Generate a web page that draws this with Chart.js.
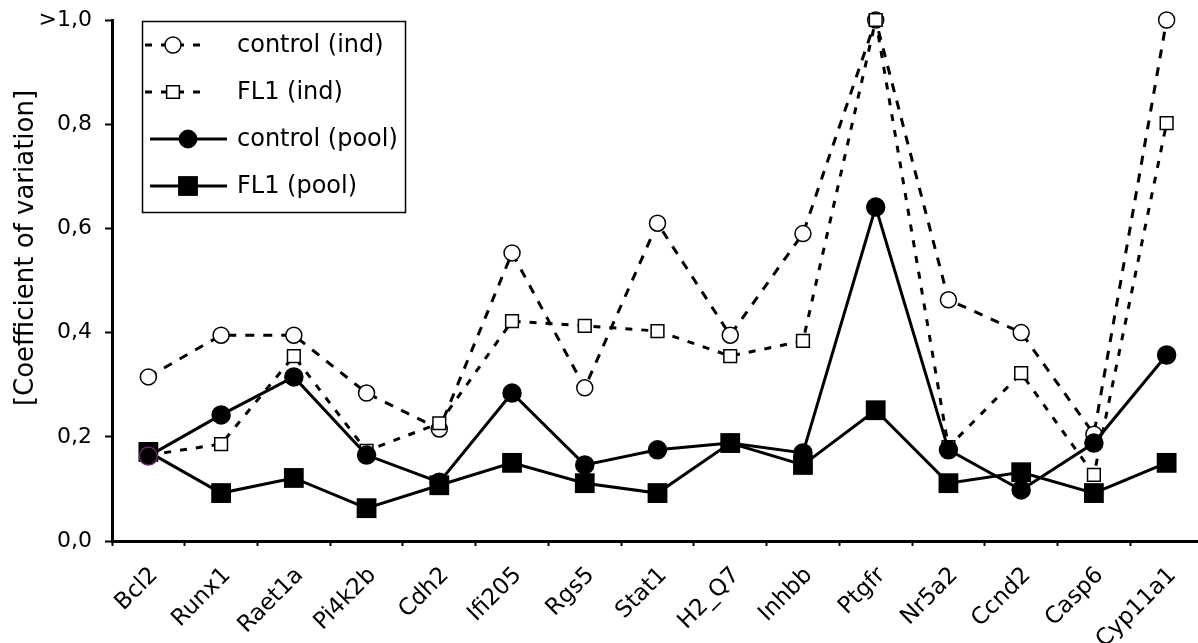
<!DOCTYPE html>
<html><head><meta charset="utf-8">
<script src="https://cdn.jsdelivr.net/npm/chart.js@4"></script>
<style>html,body{margin:0;padding:0;overflow:hidden;background:#fff;width:1198px;height:643px}</style>
</head><body>
<canvas id="c" width="1203" height="643" style="display:block"></canvas>
<script>
const categories = ['Bcl2','Runx1','Raet1a','Pi4k2b','Cdh2','Ifi205','Rgs5','Stat1','H2_Q7','Inhbb','Ptgfr','Nr5a2','Ccnd2','Casp6','Cyp11a1'];
const controlInd  = [0.315,0.395,0.395,0.284,0.215,0.553,0.294,0.610,0.395,0.590,1.000,0.463,0.400,0.205,1.000];
const fl1Ind      = [0.165,0.186,0.355,0.173,0.226,0.422,0.413,0.403,0.355,0.384,1.000,0.180,0.322,0.127,0.802];
const controlPool = [0.163,0.242,0.315,0.165,0.113,0.284,0.146,0.175,0.188,0.169,0.641,0.175,0.098,0.188,0.357];
const fl1Pool     = [0.171,0.092,0.121,0.063,0.107,0.150,0.111,0.092,0.188,0.146,0.251,0.111,0.132,0.092,0.150];
const seriesLabels = ['control (ind)','FL1 (ind)','control (pool)','FL1 (pool)'];
const yTickLabels = ['0,0','0,2','0,4','0,6','0,8','>1,0'];
const yTitle = '[Coefficient of variation]';

const FONT = 'DejaVu Sans';

const legendBox = {
  id: 'legendBox',
  afterDraw(chart) {
    const ctx = chart.ctx;
    ctx.save();
    ctx.fillStyle = '#fff';
    ctx.strokeStyle = '#000';
    ctx.lineWidth = 1.5;
    ctx.fillRect(142, 21, 264, 192);
    ctx.strokeRect(142.5, 21.5, 263, 191);
    const geo = [[145, 207, 173], [145, 207, 173], [150, 227, 188], [150, 227, 188]];
    chart.data.datasets.forEach((ds, i) => {
      const y = 45 + i * 47;
      const [x0, x1, xm] = geo[i];
      ctx.strokeStyle = '#000';
      ctx.lineWidth = ds.borderWidth;
      ctx.setLineDash(ds.borderDash ? [7, 9] : []);
      ctx.beginPath();
      ctx.moveTo(x0, y); ctx.lineTo(x1, y);
      ctx.stroke();
      ctx.setLineDash([]);
      ctx.fillStyle = ds.pointBackgroundColor;
      ctx.strokeStyle = '#000';
      ctx.lineWidth = ds.legendBorder;
      Chart.helpers.drawPoint(ctx, {pointStyle: ds.pointStyle, radius: ds.pointRadius, borderWidth: ds.legendBorder, rotation: 0}, xm, y);
      ctx.fillStyle = '#000';
      ctx.font = '24px "' + FONT + '"';
      ctx.textBaseline = 'middle';
      ctx.textAlign = 'left';
      ctx.fillText(ds.label, 237, y + 1);
    });
    // y title
    ctx.translate(26, 248);
    ctx.rotate(-Math.PI / 2);
    ctx.font = '26px "' + FONT + '"';
    ctx.textAlign = 'center';
    ctx.textBaseline = 'middle';
    ctx.fillStyle = '#000';
    ctx.fillText(yTitle, 0, 0);
    ctx.restore();
  }
};

new Chart(document.getElementById('c'), {
  type: 'line',
  data: {
    labels: categories,
    datasets: [
      {label: seriesLabels[0], data: controlInd, borderColor: '#000', borderWidth: 3, borderDash: [9, 9],
       pointStyle: 'circle', pointRadius: 8, pointBorderWidth: 1.5, legendBorder: 1.5, pointBackgroundColor: '#fff', pointBorderColor: '#000', order: 3},
      {label: seriesLabels[1], data: fl1Ind, borderColor: '#000', borderWidth: 3, borderDash: [7, 9],
       pointStyle: 'rect', pointRadius: 9, pointBorderWidth: 1.5, legendBorder: 1.5, pointBackgroundColor: '#fff', pointBorderColor: '#000', order: 2},
      {label: seriesLabels[2], data: controlPool, borderColor: '#000', borderWidth: 3,
       pointStyle: 'circle', pointRadius: 9, pointBorderWidth: 1.5, legendBorder: 1, pointBackgroundColor: '#000',
       pointBorderColor: controlPool.map((v, i) => i === 0 ? '#6a2a6a' : '#000'), order: 0},
      {label: seriesLabels[3], data: fl1Pool, borderColor: '#000', borderWidth: 3,
       pointStyle: 'rect', pointRadius: 14, pointBorderWidth: 0, legendBorder: 0, pointBackgroundColor: '#000', pointBorderColor: '#000', order: 1}
    ]
  },
  options: {
    responsive: false,
    animation: false,
    layout: {autoPadding: false, padding: {top: 20, left: 0, right: 0, bottom: 0}},
    elements: {line: {tension: 0}, point: {hitRadius: 0}},
    datasets: {line: {clip: false}},
    plugins: {legend: {display: false}, tooltip: {enabled: false}},
    scales: {
      x: {
        type: 'category',
        offset: true,
        afterFit(s) { s.height = 102; s.paddingLeft = 0; s.paddingRight = 0; },
        grid: {offset: true, drawOnChartArea: false, tickLength: 5, tickWidth: 2, color: '#000'},
        border: {display: true, width: 3, color: '#000'},
        ticks: {autoSkip: false, minRotation: 45, maxRotation: 45, padding: 16, labelOffset: 6, color: '#000',
                font: {family: FONT, size: 23}}
      },
      y: {
        min: 0, max: 1,
        afterFit(s) { s.width = 112; s.paddingTop = 0; s.paddingBottom = 0; },
        grid: {drawOnChartArea: false, tickLength: 7, tickWidth: 2, color: '#000'},
        border: {display: true, width: 3, color: '#000'},
        ticks: {stepSize: 0.2, padding: 13, color: '#000', font: {family: FONT, size: 22},
                callback: (v, i) => yTickLabels[i]}
      }
    }
  },
  plugins: [legendBox]
});
</script>
</body></html>
